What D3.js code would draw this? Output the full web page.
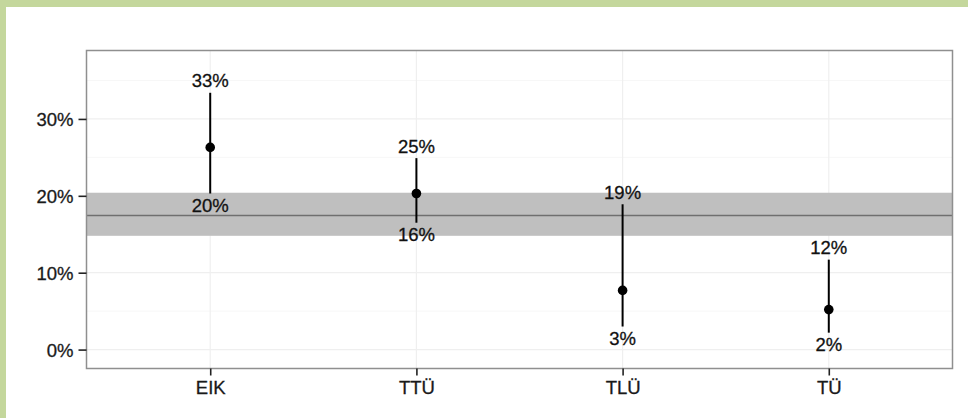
<!DOCTYPE html>
<html><head><meta charset="utf-8">
<script src="https://cdn.jsdelivr.net/npm/d3@7"></script>
<style>html,body{margin:0;padding:0;background:#fff;}svg{display:block;}</style>
</head><body>
<script>
const categories = ["EIK", "TTÜ", "TLÜ", "TÜ"];
const estimates = [26.3, 20.3, 7.7, 5.2];
const lowers = [20.3, 16.5, 3.0, 2.2];
const uppers = [33.4, 24.9, 18.9, 11.7];
const upperLabels = ["33%", "25%", "19%", "12%"];
const lowerLabels = ["20%", "16%", "3%", "2%"];
const overall = 17.45;
const overallBand = [14.8, 20.4];
const yTicks = [0, 10, 20, 30];
const yMinor = [5, 15, 25, 35];

const W = 968, H = 418;
const svg = d3.select("body").append("svg").attr("width", W).attr("height", H);
svg.append("rect").attr("width", W).attr("height", H).attr("fill", "#fff");
svg.append("rect").attr("x", 0).attr("y", 0).attr("width", W).attr("height", 7).attr("fill", "#c4d79c");
svg.append("rect").attr("x", 0).attr("y", 0).attr("width", 6).attr("height", H).attr("fill", "#c4d79c");

const P = {l: 86.5, r: 952.5, t: 50.5, b: 368.5};
const y = d3.scaleLinear().domain([-2.46, 38.9]).range([P.b, P.t]);
const x = d3.scalePoint().domain(categories).range([P.l, P.r]).padding(0.6);
const font = "'Liberation Sans', Arial, sans-serif";
const fs = 18.5;

const g = svg.append("g");
g.selectAll("line.minor").data(yMinor).join("line")
  .attr("x1", P.l).attr("x2", P.r).attr("y1", d => y(d)).attr("y2", d => y(d))
  .attr("stroke", "#f7f7f7").attr("stroke-width", 1);
g.selectAll("line.major").data(yTicks).join("line")
  .attr("x1", P.l).attr("x2", P.r).attr("y1", d => y(d)).attr("y2", d => y(d))
  .attr("stroke", "#efefef").attr("stroke-width", 1.2);
g.selectAll("line.vgrid").data(categories).join("line")
  .attr("x1", d => x(d)).attr("x2", d => x(d)).attr("y1", P.t).attr("y2", P.b)
  .attr("stroke", "#efefef").attr("stroke-width", 1.2);

g.append("rect").attr("x", P.l).attr("width", P.r - P.l)
  .attr("y", y(overallBand[1])).attr("height", y(overallBand[0]) - y(overallBand[1]))
  .attr("fill", "#bfbfbf");
g.append("line").attr("x1", P.l).attr("x2", P.r).attr("y1", y(overall)).attr("y2", y(overall))
  .attr("stroke", "#6f6f6f").attr("stroke-width", 1.5);

g.selectAll("line.err").data(categories).join("line")
  .attr("x1", d => x(d)).attr("x2", d => x(d))
  .attr("y1", (d, i) => y(lowers[i])).attr("y2", (d, i) => y(uppers[i]))
  .attr("stroke", "#000").attr("stroke-width", 2);
g.selectAll("circle").data(categories).join("circle")
  .attr("cx", d => x(d)).attr("cy", (d, i) => y(estimates[i])).attr("r", 4.8).attr("fill", "#000");

g.selectAll("text.up").data(categories).join("text")
  .attr("x", d => x(d)).attr("y", (d, i) => y(uppers[i]) - 5.5)
  .attr("text-anchor", "middle").attr("font-family", font).attr("font-size", fs)
  .attr("fill", "#111").attr("stroke", "#111").attr("stroke-width", 0.3)
  .text((d, i) => upperLabels[i]);
g.selectAll("text.lo").data(categories).join("text")
  .attr("x", d => x(d)).attr("y", (d, i) => y(lowers[i]) + 18)
  .attr("text-anchor", "middle").attr("font-family", font).attr("font-size", fs)
  .attr("fill", "#111").attr("stroke", "#111").attr("stroke-width", 0.3)
  .text((d, i) => lowerLabels[i]);

svg.append("rect").attr("x", P.l).attr("y", P.t).attr("width", P.r - P.l).attr("height", P.b - P.t)
  .attr("fill", "none").attr("stroke", "#8f8f8f").attr("stroke-width", 1.5);

const yAxis = d3.axisLeft(y).tickValues(yTicks).tickFormat(d => d + "%").tickSize(8).tickPadding(5);
const ya = svg.append("g").attr("transform", `translate(${P.l},0)`).call(yAxis);
const xAxis = d3.axisBottom(x).tickSize(7).tickPadding(5);
const xa = svg.append("g").attr("transform", `translate(0,${P.b})`).call(xAxis);
[ya, xa].forEach(a => {
  a.attr("font-family", font).attr("font-size", fs);
  a.select(".domain").remove();
  a.selectAll(".tick line").attr("stroke", "#222").attr("stroke-width", 1.6);
  a.selectAll(".tick text").attr("font-family", font).attr("font-size", fs)
    .attr("fill", "#1a1a1a").attr("stroke", "#1a1a1a").attr("stroke-width", 0.3);
});
ya.selectAll(".tick text").attr("dy", "0.36em");
</script>
</body></html>
